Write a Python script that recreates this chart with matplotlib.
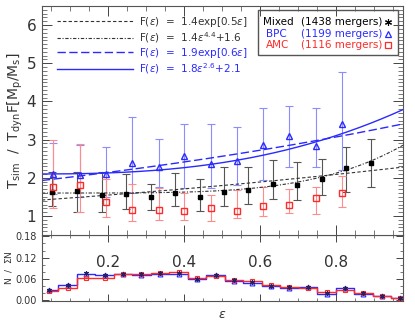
import matplotlib
matplotlib.use('Agg')
import matplotlib.pyplot as plt
from matplotlib.patches import Rectangle
from matplotlib.ticker import MultipleLocator
import numpy as np

# main panel: binned T_sim / T_dyn F values
mix_x = [0.052, 0.118, 0.182, 0.246, 0.311, 0.375, 0.441, 0.504, 0.568, 0.632, 0.697, 0.761, 0.825, 0.891]
mix_y = [1.63, 1.66, 1.55, 1.58, 1.49, 1.61, 1.49, 1.63, 1.68, 1.83, 1.82, 1.98, 2.25, 2.40]
mix_hi = [2.15, 2.15, 2.15, 2.09, 1.85, 2.12, 1.96, 2.27, 2.28, 2.47, 2.42, 2.48, 2.80, 3.02]
mix_lo = [1.25, 1.10, 1.10, 1.18, 1.15, 1.25, 1.14, 1.25, 1.31, 1.44, 1.42, 1.55, 1.64, 1.75]

sub_x = [0.055, 0.125, 0.193, 0.263, 0.332, 0.399, 0.470, 0.539, 0.607, 0.676, 0.745, 0.815]
bpc_y = [2.10, 2.08, 2.09, 2.40, 2.27, 2.57, 2.37, 2.44, 2.86, 3.09, 2.83, 3.41]
bpc_hi = [2.92, 2.86, 2.80, 3.60, 3.02, 3.40, 3.40, 3.34, 3.83, 3.89, 3.83, 4.78]
bpc_lo = [1.57, 1.50, 1.50, 1.60, 1.75, 1.74, 1.74, 1.81, 1.95, 2.27, 2.27, 2.20]

amc_y = [1.75, 1.81, 1.36, 1.16, 1.16, 1.14, 1.22, 1.14, 1.27, 1.29, 1.48, 1.59]
amc_hi = [3.00, 2.88, 1.96, 1.83, 1.72, 1.59, 1.55, 1.68, 1.75, 1.70, 1.76, 2.05]
amc_lo = [1.20, 1.10, 0.98, 0.87, 0.90, 0.90, 0.87, 0.94, 0.99, 1.08, 1.05, 1.23]

# fit parameters
fit_mix_exp = (1.4, 0.5)
fit_mix_pow = (1.4, 4.4, 1.6)
fit_bpc_exp = (1.9, 0.6)
fit_bpc_pow = (1.8, 2.6, 2.1)

# lower panel: normalised histograms
hist_x = [0.044, 0.093, 0.141, 0.190, 0.239, 0.287, 0.336, 0.385, 0.433, 0.482,
          0.530, 0.579, 0.628, 0.676, 0.725, 0.774, 0.822, 0.871, 0.919, 0.967]
hist_bpc = [0.028, 0.041, 0.074, 0.069, 0.073, 0.071, 0.074, 0.074, 0.059, 0.071,
            0.054, 0.047, 0.038, 0.034, 0.036, 0.017, 0.033, 0.017, 0.011, 0.005]
hist_amc = [0.025, 0.034, 0.063, 0.063, 0.074, 0.074, 0.077, 0.080, 0.063, 0.068,
            0.055, 0.053, 0.041, 0.036, 0.033, 0.022, 0.028, 0.018, 0.011, 0.005]
hist_mix = [0.027, 0.042, 0.075, 0.071, 0.074, 0.073, 0.075, 0.076, 0.060, 0.070,
            0.055, 0.049, 0.040, 0.035, 0.035, 0.020, 0.034, 0.019, 0.012, 0.006]

BLUE = '#2a2aff'
LBLUE = '#8c8cff'
RED = '#ff2a2a'
LRED = '#ff8c8c'
GREY = '#555555'
FS = 7.5

fig = plt.figure(figsize=(4.15, 3.32), dpi=100)
ax2 = fig.add_axes([0.101, 0.093, 0.870, 0.199])
ax = fig.add_axes([0.101, 0.292, 0.870, 0.690])
ax2.patch.set_alpha(0)

xmin, xmax = 0.025, 0.975
e = np.linspace(xmin, xmax, 300)

def bars(a, x, y, lo, hi, color):
    y = np.array(y)
    err = [y - np.array(lo), np.array(hi) - y]
    a.errorbar(x, y, yerr=err, fmt='none', ecolor=color, elinewidth=0.8,
               capsize=3, capthick=0.8, zorder=2)

bars(ax, mix_x, mix_y, mix_lo, mix_hi, GREY)
bars(ax, sub_x, bpc_y, bpc_lo, bpc_hi, LBLUE)
bars(ax, sub_x, amc_y, amc_lo, amc_hi, LRED)

l1, = ax.plot(e, fit_mix_exp[0] * np.exp(fit_mix_exp[1] * e), color='#333333', ls=(0, (3, 2)), lw=0.8)
l2, = ax.plot(e, fit_mix_pow[0] * e ** fit_mix_pow[1] + fit_mix_pow[2], color='#333333',
              ls=(0, (3, 1.5, 1, 1.5)), lw=0.8)
l3, = ax.plot(e, fit_bpc_exp[0] * np.exp(fit_bpc_exp[1] * e), color=BLUE, ls=(0, (6, 2.5)), lw=1.0)
l4, = ax.plot(e, fit_bpc_pow[0] * e ** fit_bpc_pow[1] + fit_bpc_pow[2], color=BLUE, lw=1.0)

ax.plot(mix_x, mix_y, 's', color='black', ms=3.5, zorder=4)
ax.plot(sub_x, bpc_y, '^', mfc='none', mec=BLUE, mew=1.0, ms=4.5, zorder=4)
ax.plot(sub_x, amc_y, 's', mfc='none', mec=RED, mew=1.0, ms=4.5, zorder=4)

leg = ax.legend([l1, l2, l3, l4],
                [r'F($\epsilon$)  =  1.4exp[0.5$\epsilon$]',
                 r'F($\epsilon$)  =  1.4$\epsilon^{4.4}$+1.6',
                 r'F($\epsilon$)  =  1.9exp[0.6$\epsilon$]',
                 r'F($\epsilon$)  =  1.8$\epsilon^{2.6}$+2.1'],
                loc='upper left', bbox_to_anchor=(0.03, 0.98), frameon=False,
                fontsize=FS, handlelength=7.3, handletextpad=0.6, labelspacing=0.12,
                labelcolor=['#333333', '#333333', BLUE, BLUE], borderaxespad=0)

# sample legend box
ax.add_patch(Rectangle((0.598, 0.786), 0.388, 0.197, transform=ax.transAxes,
                       fill=False, ec='#555555', lw=1.0, zorder=5))
rows = [('Mixed', '(1438 mergers)', 'black', '*'),
        ('BPC', '(1199 mergers)', BLUE, '^'),
        ('AMC', '(1116 mergers)', RED, 's')]
for i, (name, num, col, mk) in enumerate(rows):
    yy = 0.930 - i * 0.051
    ax.text(0.612 if i == 0 else 0.620, yy, name, transform=ax.transAxes, color=col,
            fontsize=FS, va='center')
    ax.text(0.717, yy, num, transform=ax.transAxes, color=col, fontsize=FS, va='center')
    if mk == '*':
        ax.plot([0.958], [yy], marker=(6, 2, 0), color='black', ms=5, mew=0.8,
                transform=ax.transAxes)
    else:
        ax.plot([0.958], [yy], marker=mk, mfc='none', mec=col, ms=5, mew=0.9,
                transform=ax.transAxes)

ax.set_xlim(xmin, xmax)
ax.set_ylim(0.5, 6.5)
ax.xaxis.set_major_locator(MultipleLocator(0.2))
ax.xaxis.set_minor_locator(MultipleLocator(0.05))
ax.yaxis.set_major_locator(MultipleLocator(1))
ax.yaxis.set_minor_locator(MultipleLocator(0.1))
ax.tick_params(which='both', direction='in', top=True, right=True, labelsize=11,
               colors='#444444', labelcolor='#333333')
ax.tick_params(which='major', length=7, width=0.7)
ax.tick_params(which='minor', length=3.5, width=0.5)
ax.tick_params(axis='x', pad=14)
ax.tick_params(axis='y', pad=4)
ax.set_ylabel(r'$\mathrm{T_{sim}\ \ /\ \ T_{dyn}F[M_p/M_s]}$', fontsize=10, color='#333333', labelpad=1)
for s in ax.spines.values():
    s.set_color('#555555')
    s.set_linewidth(0.8)

# lower panel
ax2.plot(hist_x, hist_bpc, drawstyle='steps-mid', color=BLUE, lw=1.0)
ax2.plot(hist_x, hist_amc, drawstyle='steps-mid', color=RED, lw=1.0)
ax2.plot(hist_x, hist_bpc, '^', mfc='none', mec=BLUE, ms=3.5, mew=0.8)
ax2.plot(hist_x, hist_amc, 's', mfc='none', mec=RED, ms=3.5, mew=0.8)
ax2.plot(hist_x, hist_mix, marker=(6, 2, 0), ls='none', color='#222266', ms=3.5, mew=0.8)
ax2.set_xlim(xmin, xmax)
ax2.set_ylim(-0.004, 0.184)
ax2.set_yticks([0.0, 0.06, 0.12, 0.18])
ax2.set_yticklabels(['0.00', '0.06', '0.12', '0.18'])
ax2.xaxis.set_major_locator(MultipleLocator(0.2))
ax2.xaxis.set_minor_locator(MultipleLocator(0.05))
ax2.yaxis.set_minor_locator(MultipleLocator(0.02))
ax2.tick_params(which='both', direction='in', top=True, right=True, labelsize=7,
                colors='#444444', labelcolor='#333333', labelbottom=False)
ax2.tick_params(which='major', length=5, width=0.7)
ax2.tick_params(which='minor', length=2.5, width=0.5)
ax2.set_ylabel(r'N  /  $\Sigma$N', fontsize=6.5, color='#333333', labelpad=1)
ax2.set_xlabel(r'$\epsilon$', fontsize=9, color='#333333', labelpad=5)
for s in ax2.spines.values():
    s.set_color('#555555')
    s.set_linewidth(0.8)

fig.savefig('out.png', dpi=100)
